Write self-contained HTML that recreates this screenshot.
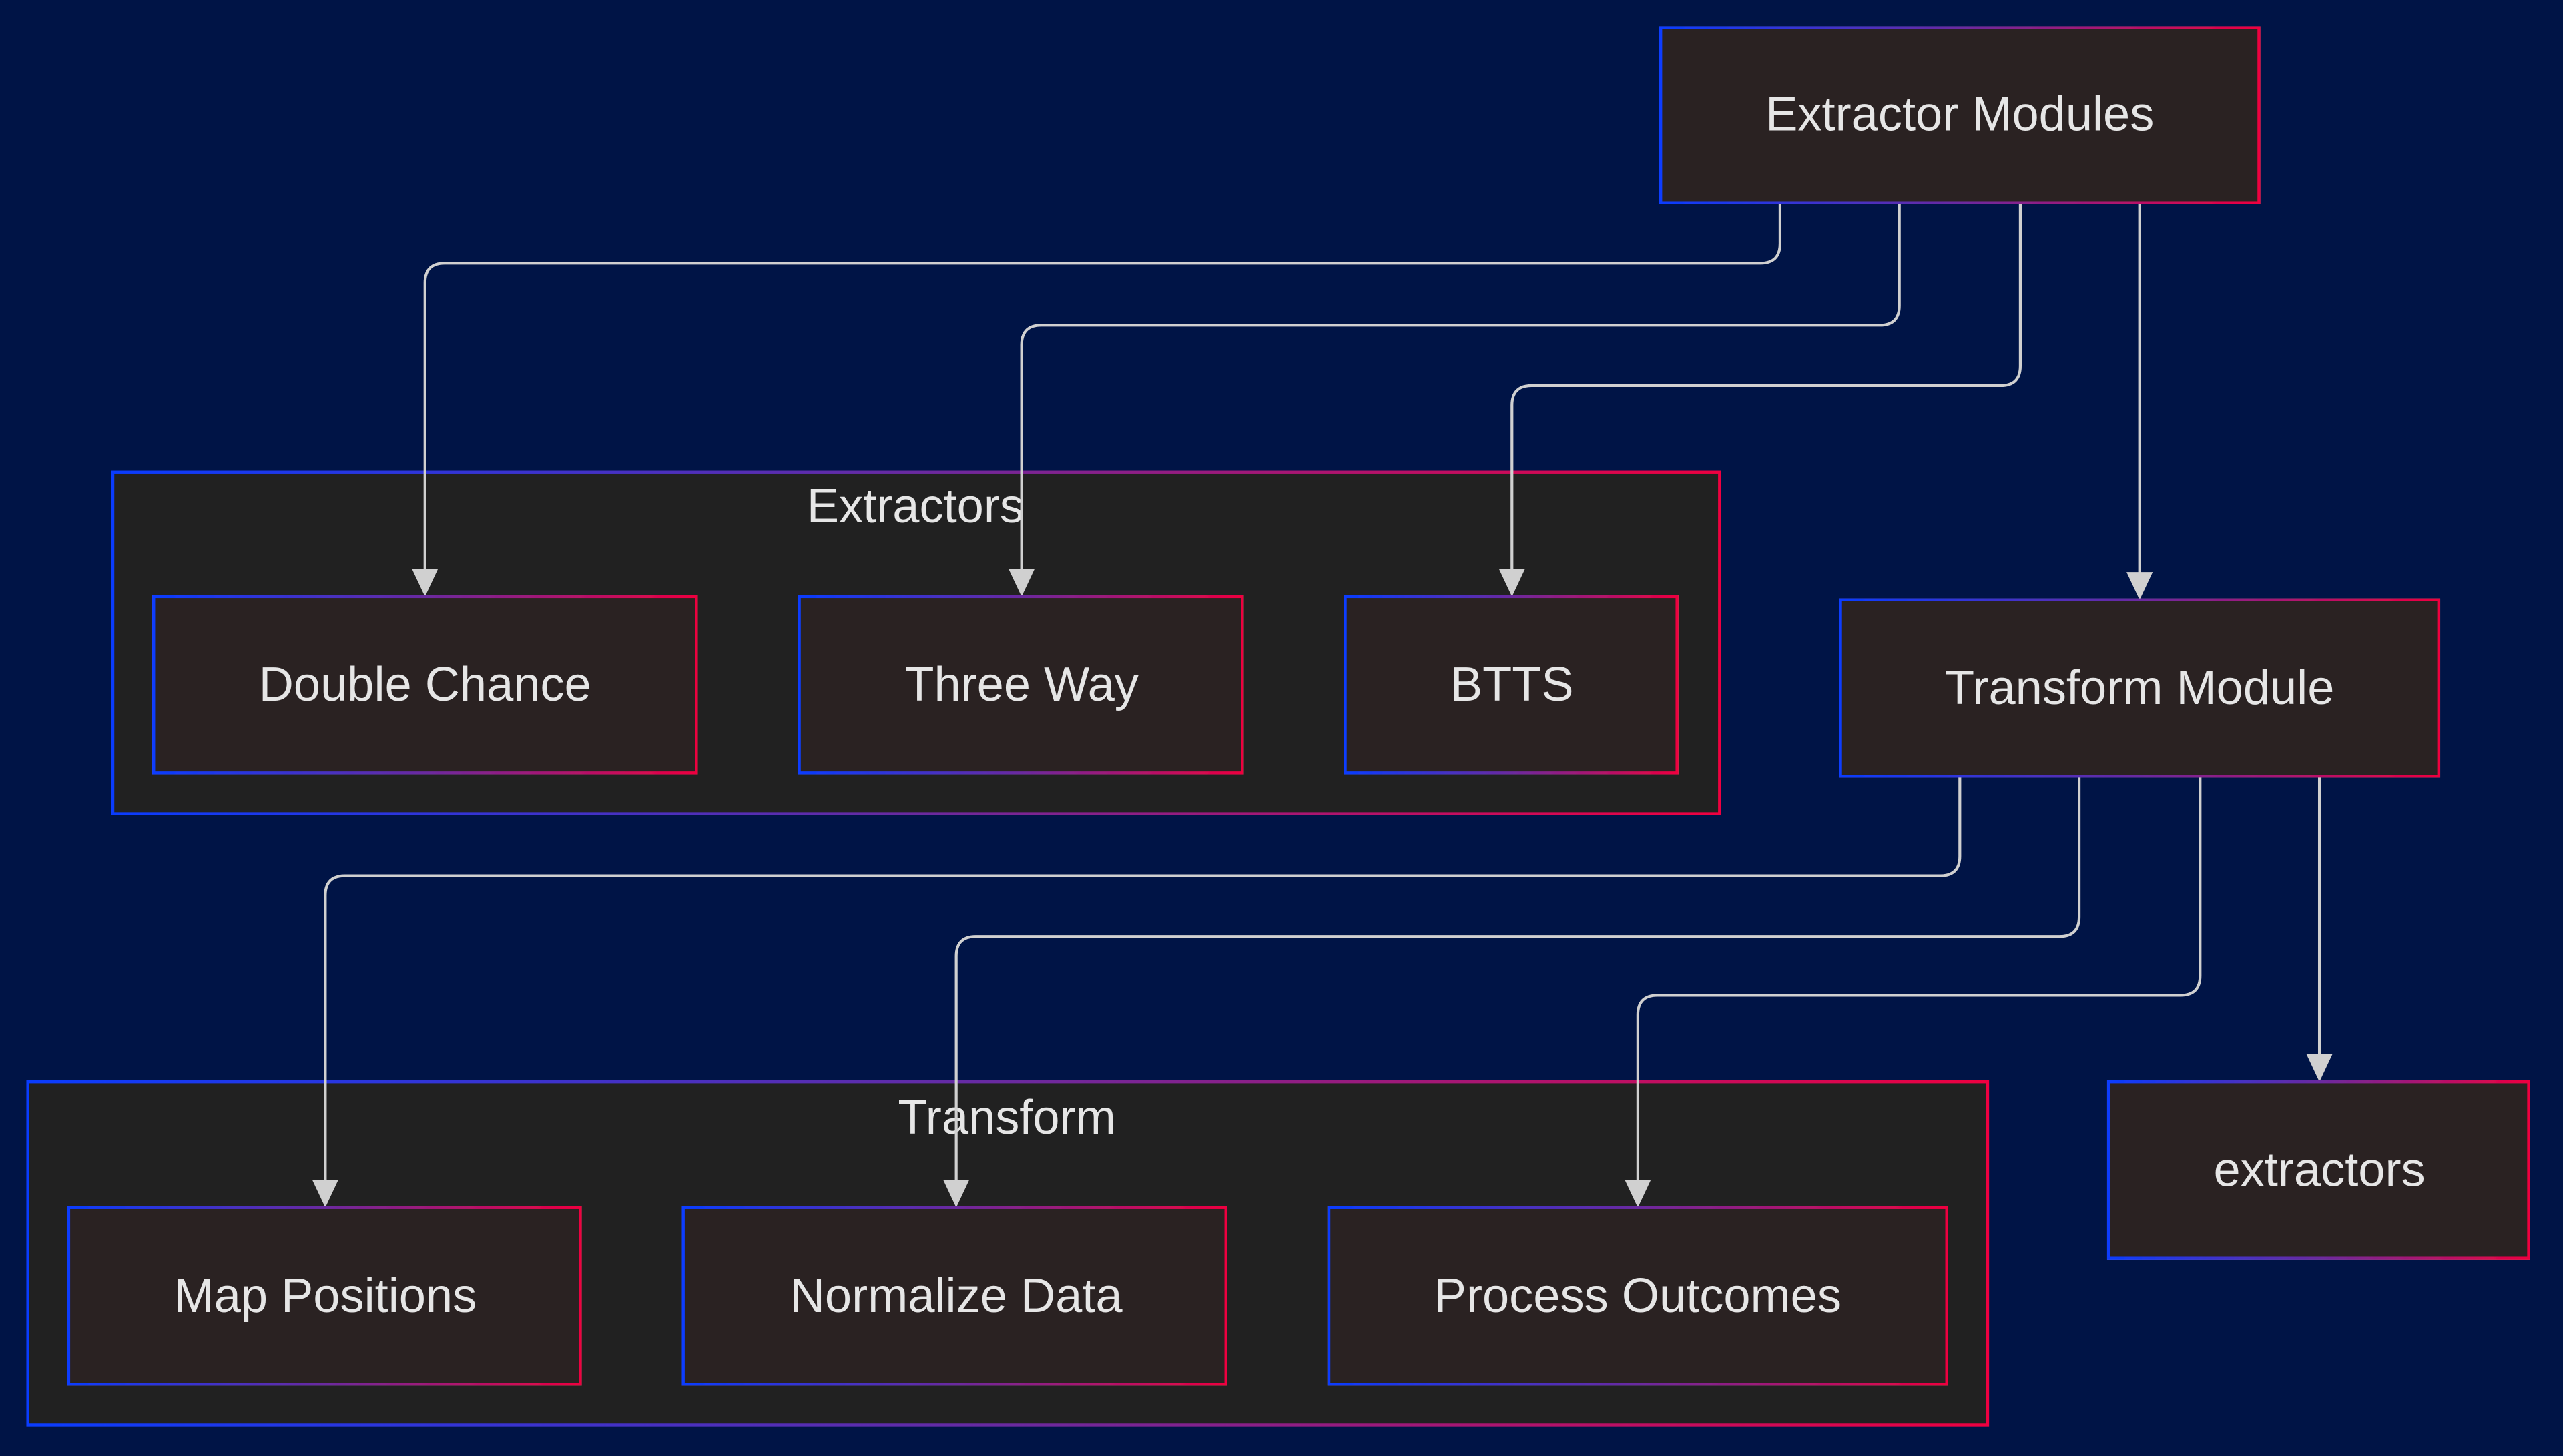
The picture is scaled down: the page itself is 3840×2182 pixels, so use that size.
<!DOCTYPE html>
<html><head><meta charset="utf-8"><style>
html,body{margin:0;padding:0;background:#001446;}
svg{display:block}
text{font-family:"Liberation Sans",Arial,sans-serif;fill:#e6e6e6;text-anchor:middle;dominant-baseline:central;font-size:29.5px}
</style></head><body>
<svg width="3840" height="2182" viewBox="0 0 1568 891" xmlns="http://www.w3.org/2000/svg">
<defs>
<linearGradient id="g" x1="0" y1="0" x2="1" y2="0"><stop offset="0" stop-color="#0a3cff"/><stop offset="0.5" stop-color="#6a2aa0"/><stop offset="1" stop-color="#ee0040"/></linearGradient>
<filter id="sh" x="-10%" y="-20%" width="120%" height="140%"><feGaussianBlur in="SourceAlpha" stdDeviation="3"/><feFlood flood-color="#ffffff" flood-opacity="0.25"/><feComposite operator="in" in2="SourceGraphic"/><feComposite operator="over" in="SourceGraphic"/></filter>
<marker id="a" viewBox="0 0 10 10" refX="9" refY="5" markerWidth="7" markerHeight="7" markerUnits="userSpaceOnUse" orient="auto"><path d="M0,0L10,5L0,10z" fill="#d0d0d0"/></marker>
</defs>
<rect width="1568" height="891" fill="#001446"/>
<g stroke="url(#g)" stroke-width="1.8">
<rect x="69" y="289" width="983" height="209" fill="#212121"/>
<rect x="17" y="662" width="1199" height="210" fill="#212121"/>
</g>
<text x="560" y="310">Extractors</text>
<text x="616" y="684">Transform</text>
<g fill="none" stroke="#d0d0d0" stroke-width="1.7">
<path d="M1089,124V149Q1089,161 1077,161H272Q260,161 260,173V351"/>
<path d="M1162,124V187Q1162,199 1150,199H637Q625,199 625,211V351"/>
<path d="M1236,124V224Q1236,236 1224,236H937Q925,236 925,248V351"/>
<path d="M1309,124V353"/>
<path d="M1199,475V524Q1199,536 1187,536H211Q199,536 199,548V725"/>
<path d="M1272,475V561Q1272,573 1260,573H597Q585,573 585,585V725"/>
<path d="M1346,475V597Q1346,609 1334,609H1014Q1002,609 1002,621V725"/>
<path d="M1419,475V648"/>
</g>
<g fill="#d0d0d0">
<path d="M252,348h16l-8,17z"/><path d="M617,348h16l-8,17z"/><path d="M917,348h16l-8,17z"/><path d="M1301,350h16l-8,17z"/>
<path d="M191,722h16l-8,17z"/><path d="M577,722h16l-8,17z"/><path d="M994,722h16l-8,17z"/><path d="M1411,645h16l-8,17z"/>
</g>
<g stroke="url(#g)" stroke-width="1.8" fill="#2c2220" filter="url(#sh)">
<rect x="1016" y="17" width="366" height="107"/>
<rect x="94" y="365" width="332" height="108"/>
<rect x="489" y="365" width="271" height="108"/>
<rect x="823" y="365" width="203" height="108"/>
<rect x="1126" y="367" width="366" height="108"/>
<rect x="42" y="739" width="313" height="108"/>
<rect x="418" y="739" width="332" height="108"/>
<rect x="813" y="739" width="378" height="108"/>
<rect x="1290" y="662" width="257" height="108"/>
</g>
<text x="1199" y="70">Extractor Modules</text>
<text x="260" y="419">Double Chance</text>
<text x="625" y="419">Three Way</text>
<text x="925" y="419">BTTS</text>
<text x="1309" y="421">Transform Module</text>
<text x="199" y="793">Map Positions</text>
<text x="585" y="793">Normalize Data</text>
<text x="1002" y="793">Process Outcomes</text>
<text x="1419" y="716">extractors</text>
</svg>
</body></html>
